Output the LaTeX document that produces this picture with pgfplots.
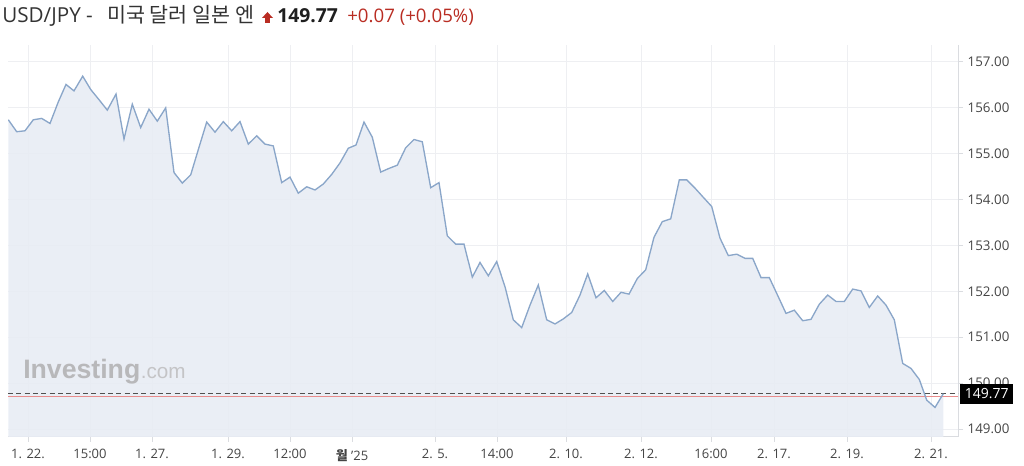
\documentclass[border=0pt]{standalone}
\usepackage{fontspec}
\usepackage{pgfplots}
\usepackage{pgfplotstable}
\pgfplotsset{compat=1.18}
\setmainfont{Open Sans}
\newfontfamily\kr{Noto Sans CJK KR}
\newfontfamily\wm{Liberation Sans}
\definecolor{linec}{RGB}{138,166,201}
\definecolor{fillc}{RGB}{232,236,244}
\definecolor{gridc}{RGB}{238,239,242}
\definecolor{axc}{RGB}{218,220,224}
\definecolor{tickc}{RGB}{68,68,68}
\definecolor{upred}{RGB}{185,45,35}
\definecolor{wmc}{RGB}{184,184,186}
\definecolor{wmc2}{RGB}{196,196,198}
\definecolor{prevred}{RGB}{232,140,140}
\definecolor{dashc}{RGB}{80,80,80}
\definecolor{titc}{RGB}{51,51,51}

\pgfplotstableread{
x y
8.3 155.74
16.7 155.48
25 155.50
33.3 155.74
41.7 155.77
50 155.66
58.3 156.13
66 156.51
74 156.37
82.7 156.69
90.7 156.40
99.3 156.17
107.3 155.95
116 156.30
124 155.32
132.3 156.08
140.7 155.57
149 155.97
157.3 155.71
165.7 156.00
174 154.59
182.3 154.36
190.7 154.54
199 155.14
206.7 155.69
215 155.47
223.3 155.70
231.7 155.50
240 155.70
248.3 155.21
256.7 155.39
265 155.21
273.3 155.17
281.7 154.37
290 154.49
298.3 154.14
306.7 154.28
315 154.21
323.3 154.34
331.7 154.55
340 154.80
348.3 155.12
356 155.19
364 155.69
372.3 155.36
380.7 154.60
389 154.68
397.3 154.75
405.7 155.13
414 155.31
422.3 155.26
430.7 154.26
439 154.37
447.3 153.21
455.7 153.03
464 153.03
472.3 152.31
480 152.63
488.3 152.34
496.7 152.65
505 152.10
513.3 151.38
521.7 151.21
530 151.70
538.3 152.14
546.7 151.38
555 151.29
563.3 151.40
571.7 151.54
580 151.92
587.7 152.38
596 151.86
604.3 152.02
612.7 151.78
621 151.98
629 151.94
637.3 152.28
645.7 152.47
654 153.18
662.3 153.52
670.7 153.58
679.3 154.43
686.7 154.43
695 154.25
703.3 154.05
711.7 153.85
720 153.16
728.3 152.78
736.7 152.81
745 152.72
752.7 152.72
761 152.30
769.3 152.30
777.7 151.91
786 151.52
794.3 151.59
802.7 151.36
811 151.39
819.3 151.72
827.7 151.92
836 151.78
844.3 151.78
852.7 152.05
861 152.01
869.3 151.65
877.7 151.90
886 151.70
894.3 151.38
902.7 150.43
911 150.32
919.3 150.08
926.7 149.63
935 149.47
943.3 149.77
}\data

\begin{document}
\begin{tikzpicture}[x=1pt,y=1pt]
\useasboundingbox (0,0) rectangle (768,349.5);
\begin{axis}[
  at={(6pt,21.75pt)}, anchor=south west,
  scale only axis, width=712.5pt, height=294pt,
  xmin=8, xmax=958, ymin=148.826, ymax=157.37,
  axis x line*=bottom, axis y line*=right,
  axis line style={draw=axc, line width=0.75pt},
  clip mode=individual,
  tick align=outside, major tick length=3.75pt,
  tick style={draw=axc, line width=0.75pt},
  grid=major, major grid style={draw=gridc, line width=0.75pt},
  ytick={149,150,...,157},
  xtick={28,90,152,228,290,352,435,497,566,641,711,774,847,931},
  xticklabels={1. 22., 15:00, 1. 27., 1. 29., 12:00, {{\kr\bfseries 월} '25}, 2. 5., 14:00, 2. 10., 2. 12., 16:00, 2. 17., 2. 19., 2. 21.},
  xticklabel style={font=\fontsize{9.75}{11}\selectfont, text=tickc, yshift=-2pt},
  yticklabel style={font=\fontsize{10}{11}\selectfont, text=tickc,
    /pgf/number format/.cd, fixed, fixed zerofill, precision=2, assume math mode=true},
]
\addplot[draw=none, fill=fillc, fill opacity=0.9] table {\data} \closedcycle;
\node[anchor=base west, inner sep=0pt, text=wmc, font=\wm\bfseries\fontsize{20}{20}\selectfont] (inv) at (axis cs:23,150.11) {Investing};
\node[anchor=base west, inner sep=0pt, text=wmc2, font=\wm\fontsize{15.5}{16}\selectfont] at (inv.base east) {.com};
\addplot[prevred, line width=0.6pt] coordinates {(8,149.70) (958,149.70)};
\addplot[dashc, line width=1pt, dash pattern=on 3.75pt off 2.5pt] coordinates {(8,149.77) (958,149.77)};
\addplot[linec, line width=1pt] table {\data};
\coordinate (lab) at (axis cs:958,149.77);
\end{axis}
\node[anchor=west, fill=black, text=white, inner xsep=2.5pt, inner ysep=0pt, minimum height=15pt, minimum width=39.75pt, font=\fontsize{10.5}{11}\selectfont, xshift=1.5pt] at (lab) {149.77};
\node[anchor=base west, inner sep=0pt, font=\fontsize{15.5}{16}\selectfont, text=titc] at (1.5,332.25) {USD/JPY -};
\node[anchor=base west, inner sep=0pt, font=\kr\fontsize{15.5}{16}\selectfont, text=titc] at (80.25,332.25) {미국 달러 일본 엔};
\fill[upred] (196.5,336) -- (204.75,336) -- (200.6,340.5) -- cycle;
\fill[upred] (198.75,332.4) rectangle (202.5,336.2);
\node[anchor=base west, inner sep=0pt, font=\bfseries\fontsize{14.5}{16}\selectfont, text=black!88] at (207.75,332.25) {149.77};
\node[anchor=base west, inner sep=0pt, font=\fontsize{14}{16}\selectfont, text=upred] at (260.25,332.25) {+0.07 (+0.05\%)};
\end{tikzpicture}
\end{document}
